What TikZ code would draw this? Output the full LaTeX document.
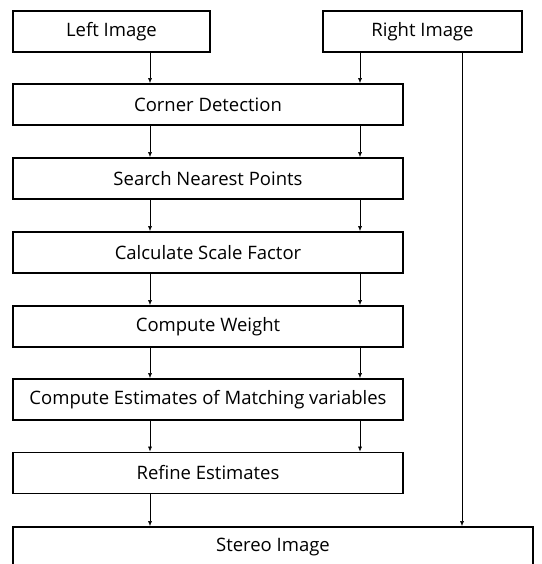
\documentclass[tikz,border=0pt]{standalone}
\usepackage{fontspec}
\setmainfont{Open Sans}
\usetikzlibrary{arrows.meta}
\begin{document}
\begin{tikzpicture}[x=1pt,y=-1pt,
  box/.style={draw,line width=1.8pt,minimum height=41pt,inner sep=0pt,
    font=\fontsize{18.5}{22}\selectfont},
  arr/.style={line width=0.6pt,-{Latex[length=5pt,width=4pt]}}]
\useasboundingbox (0,0) rectangle (541,564);
% column positions of the connectors
\coordinate (lx) at (150,0);
\coordinate (rx) at (360,0);
\coordinate (fx) at (462,0);
% inputs
\node[box,minimum width=197pt] (li) at (111.5,31.5) {Left Image};
\node[box,minimum width=199pt] (ri) at (422.5,31.5) {Right Image};
% processing steps
\node[box,minimum width=390pt] (cd) at (208,104.5) {Corner Detection};
\node[box,minimum width=390pt] (sn) at (208,178.5) {Search Nearest Points};
\node[box,minimum width=390pt] (cs) at (208,252.5) {Calculate Scale Factor};
\node[box,minimum width=390pt] (cw) at (208,326.5) {Compute Weight};
\node[box,minimum width=390pt] (ce) at (208,399.5) {Compute Estimates of Matching variables};
\node[box,minimum width=390pt] (re) at (208,473) {Refine Estimates};
% output
\node[box,minimum width=520pt] (st) at (273,547.5) {Stereo Image};
% connectors
\draw[arr] (li.south -| lx) -- (cd.north -| lx);
\draw[arr] (ri.south -| rx) -- (cd.north -| rx);
\draw[arr] (ri.south -| fx) -- (st.north -| fx);
\foreach \a/\b in {cd/sn,sn/cs,cs/cw,cw/ce,ce/re}{
  \draw[arr] (\a.south -| lx) -- (\b.north -| lx);
  \draw[arr] (\a.south -| rx) -- (\b.north -| rx);
}
\draw[arr] (re.south -| lx) -- (st.north -| lx);
\end{tikzpicture}
\end{document}
